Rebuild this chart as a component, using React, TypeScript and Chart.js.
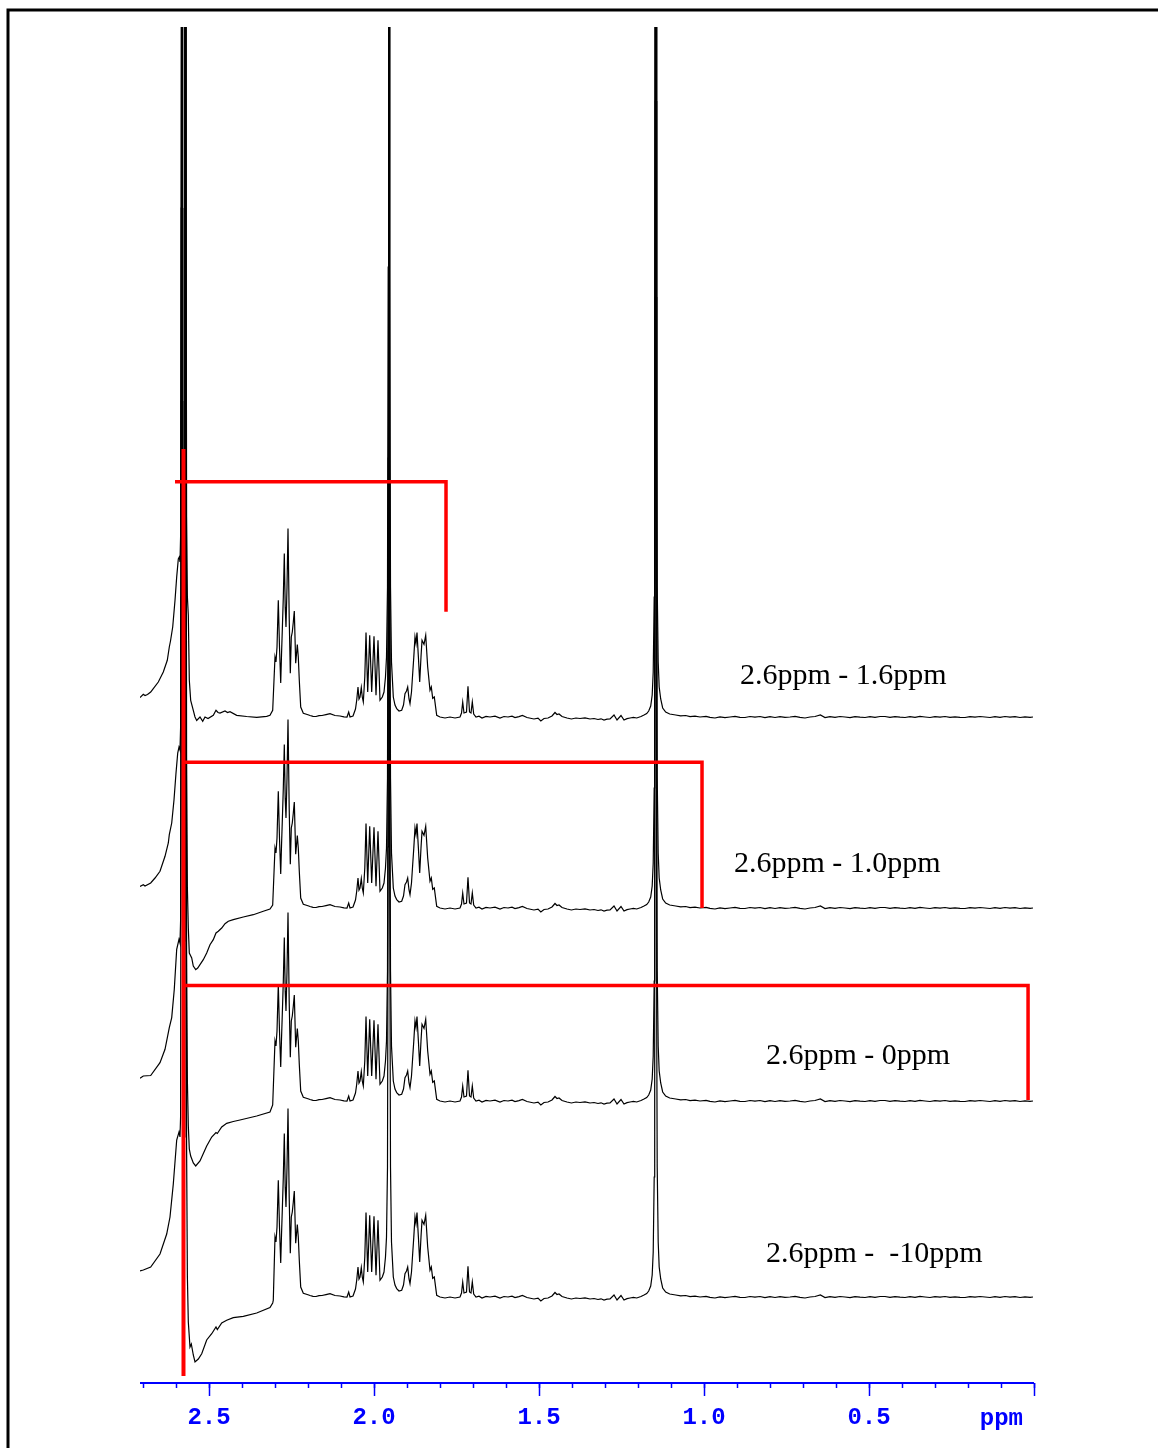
import React, { useEffect, useRef } from 'react';
import { Chart, registerables } from 'chart.js';

Chart.register(...registerables);

// ---- scale ranges (ppm axis reversed, intensity in arbitrary units) ----
const PPM_LEFT = 2.7091;
const PPM_RIGHT = 0;
const INTENSITY_MAX = 1356;

// vertical stacking offsets of the four spectra (top to bottom)
const TRACE_OFFSETS = [666, 475, 282, 86];

// [ppm, intensity] — left part of trace 1 (2.6–1.6 ppm window)
const LEFT_1: [number, number][] = [
  [2.7091, 19.5], [2.6991, 22.7], [2.6939, 21.5], [2.6864, 22.5], [2.6767, 25], [2.6688, 28.4],
  [2.6536, 35], [2.6385, 45], [2.6264, 56.7], [2.6203, 70], [2.6167, 76], [2.61, 90],
  [2.603, 116.7], [2.5979, 140], [2.593, 158], [2.59, 160], [2.5879, 155], [2.5861, 180],
  [2.5842, 700], [2.5827, 4000], [2.5812, 700], [2.5794, 160], [2.577, 60], [2.5748, 160],
  [2.573, 700], [2.5715, 4000], [2.57, 700], [2.5679, 200], [2.5655, 120], [2.5627, 101.7],
  [2.5597, 37], [2.5555, 16.7], [2.5476, 6.7], [2.5424, 0], [2.5373, -3.4], [2.5273, 0],
  [2.5191, -4.3], [2.5121, 0], [2.503, -1.5], [2.487, 1.7], [2.4788, 6.7], [2.4727, 4.5],
  [2.4667, 4], [2.4515, 6], [2.4439, 4.5], [2.4364, 5.4], [2.4161, 1.7], [2.3858, 0.5],
  [2.3555, -0.4], [2.3252, 0.7], [2.3152, 1.7], [2.307, 6.7],
];

// left part of trace 2 (2.6–1.0 ppm window)
const LEFT_2: [number, number][] = [
  [2.7091, 21.6], [2.6991, 23.3], [2.6939, 22], [2.6767, 25], [2.6636, 30], [2.6485, 36.7],
  [2.6333, 51.7], [2.6233, 65], [2.6203, 73.3], [2.613, 85], [2.6061, 108], [2.6, 135],
  [2.5948, 155], [2.5909, 161], [2.5879, 158], [2.5861, 180], [2.5842, 700], [2.5827, 4000],
  [2.5812, 700], [2.5794, 160], [2.577, 60], [2.5748, 160], [2.573, 700], [2.5715, 4000],
  [2.57, 700], [2.5679, 150], [2.5655, 20], [2.5627, -20], [2.5597, -45], [2.5524, -50],
  [2.5476, -58], [2.5403, -61.7], [2.5342, -60], [2.5273, -56.7], [2.5173, -51.7], [2.507, -45],
  [2.497, -36.7], [2.487, -31.7], [2.4788, -25], [2.4718, -23.3], [2.4615, -20], [2.4515, -15.7],
  [2.4415, -13.3], [2.4264, -11.7], [2.3961, -9], [2.3658, -6.7], [2.3355, -3.3], [2.3152, -1],
  [2.307, 3],
];

// left part of trace 3 (2.6–0 ppm window)
const LEFT_3: [number, number][] = [
  [2.7091, 22.7], [2.6991, 25], [2.6767, 25.5], [2.6485, 38.4], [2.6333, 51.7], [2.6203, 73.4],
  [2.613, 83.4], [2.6052, 111.7], [2.5979, 151.7], [2.5909, 161.7], [2.5879, 158], [2.5861, 180],
  [2.5842, 700], [2.5827, 4000], [2.5812, 700], [2.5794, 160], [2.577, 60], [2.5748, 160],
  [2.573, 700], [2.5715, 4000], [2.57, 700], [2.5679, 150], [2.5655, 20], [2.5627, -25],
  [2.5597, -48], [2.5555, -55], [2.5476, -62], [2.5403, -65], [2.5273, -60], [2.507, -45],
  [2.4918, -36], [2.4788, -31.6], [2.4748, -32.5], [2.4615, -26], [2.4464, -22.3], [2.4264, -20.5],
  [2.4061, -19], [2.3555, -15], [2.3152, -11], [2.307, -4],
];

// left part of trace 4 (2.6 – -10 ppm window)
const LEFT_4: [number, number][] = [
  [2.7091, 26], [2.6991, 27], [2.6767, 30], [2.6485, 43], [2.6282, 63], [2.6182, 80],
  [2.6082, 113], [2.5979, 157], [2.5909, 165], [2.5879, 160], [2.5861, 180], [2.5842, 700],
  [2.5827, 4000], [2.5812, 700], [2.5794, 160], [2.577, 60], [2.5748, 160], [2.573, 700],
  [2.5715, 4000], [2.57, 700], [2.5679, 150], [2.5655, 20], [2.5627, -25], [2.5576, -50],
  [2.5536, -47], [2.5476, -58], [2.5424, -65], [2.5324, -62], [2.5221, -56.7], [2.507, -43],
  [2.4918, -36.7], [2.4788, -30], [2.4748, -32.5], [2.4615, -26], [2.4464, -23.3], [2.4264, -20.6],
  [2.3961, -19.3], [2.3555, -16], [2.3152, -10.6], [2.307, -6], [2.3052, -3.3],
];

// right part common to all four spectra (2.30 ppm → 0 ppm)
const SHARED: [number, number][] = [
  [2.3, 60], [2.297, 55], [2.2939, 70], [2.29, 116.7], [2.2864, 70], [2.2827, 34],
  [2.2803, 62], [2.2779, 86.7], [2.2748, 120], [2.2718, 163.4], [2.2691, 110], [2.2667, 90],
  [2.2636, 130], [2.2606, 188.4], [2.257, 100], [2.2536, 43.7], [2.2506, 80], [2.2476, 85],
  [2.2445, 95], [2.2415, 106], [2.2373, 53.7], [2.2324, 72.4], [2.2294, 60], [2.2264, 36.7],
  [2.2221, 10], [2.2142, 3.7], [2.2, 2.2], [2.1939, 1.5], [2.1848, 0.6], [2.1758, 0.5],
  [2.1667, 1.4], [2.1576, 1.5], [2.1455, 2.4], [2.1333, 3.4], [2.1182, 1.5], [2.103, 1],
  [2.0909, 0.2], [2.0818, 0], [2.0767, 5], [2.0727, 0], [2.0636, 1], [2.0561, 8],
  [2.0524, 16.7], [2.0485, 30], [2.0455, 18], [2.0424, 20], [2.0385, 29.4], [2.0355, 20],
  [2.0324, 15], [2.0279, 40], [2.0242, 84.4], [2.0191, 25], [2.013, 81.7], [2.007, 25],
  [2.0, 80.7], [1.9939, 21.7], [1.9879, 76.7], [1.9818, 16.7], [1.9748, 20], [1.9697, 25],
  [1.9652, 40], [1.9621, 60], [1.9591, 130], [1.957, 450], [1.9556, 1400], [1.9545, 4000],
  [1.9534, 1400], [1.9521, 450], [1.95, 130], [1.947, 55], [1.9415, 20], [1.9364, 12],
  [1.9312, 8.4], [1.9242, 6], [1.9161, 6.7], [1.9106, 12], [1.9061, 23.4], [1.9015, 26],
  [1.8979, 30], [1.8939, 18], [1.8909, 13.4], [1.8864, 25], [1.8827, 43.7], [1.8794, 60],
  [1.8758, 80], [1.8727, 73.4], [1.8697, 84.4], [1.8655, 60], [1.8615, 35], [1.8576, 60],
  [1.8545, 76.7], [1.8485, 72.7], [1.8433, 81.7], [1.8373, 50], [1.8303, 26.7], [1.8264, 30],
  [1.8221, 18.7], [1.8173, 20], [1.81, 1.7], [1.8, 0], [1.7848, -1], [1.7697, 0],
  [1.7545, -1], [1.7394, 0], [1.7348, 4], [1.7312, 15], [1.7273, 4], [1.7197, 5],
  [1.7152, 30.7], [1.7106, 5], [1.7061, 4], [1.7021, 15], [1.6979, 3], [1.6909, 0],
  [1.6818, 0.8], [1.6727, -1], [1.6606, 0.6], [1.6485, 0], [1.6333, 0.8], [1.6182, -1],
  [1.6061, 0.5], [1.5939, 0], [1.5818, 0.9], [1.5727, -0.5], [1.5606, 0.4], [1.5503, 1.5],
  [1.5364, -0.5], [1.5152, -2], [1.503, -1.2], [1.4945, -4], [1.4848, -1.5], [1.4727, -1],
  [1.4606, 1], [1.4515, 4.5], [1.4455, 2.5], [1.4394, 3], [1.4303, 0.5], [1.4152, -1],
  [1.4018, -2], [1.3879, -1], [1.3758, -1.5], [1.3606, -0.8], [1.3455, -2], [1.3333, -1.5],
  [1.3212, -2.5], [1.3121, -1.8], [1.303, -3], [1.2939, -2.2], [1.2848, -2], [1.2727, 2],
  [1.2636, -3], [1.2515, 1.5], [1.2424, -3], [1.2333, -1.6], [1.2242, -1], [1.2139, -0.4],
  [1.2039, -1], [1.1909, 0.5], [1.1818, 2], [1.1736, 3.5], [1.1676, 6], [1.1615, 11],
  [1.157, 22], [1.1539, 45], [1.1509, 120], [1.1494, 280], [1.1479, 1000], [1.1464, 4000],
  [1.1448, 1000], [1.1433, 280], [1.1418, 130], [1.1388, 55], [1.1358, 30], [1.1312, 18],
  [1.1252, 9], [1.1161, 5], [1.1039, 3], [1.0858, 2], [1.0707, 1.2], [1.0555, 1.5],
  [1.0424, 0.4], [1.0273, 0.8], [1.0121, 0], [0.9939, 0.6], [0.9818, -0.3], [0.9667, -1],
  [0.9515, 0.2], [0.9364, -0.6], [0.9212, 0], [0.9061, 0.7], [0.8909, -0.4], [0.8758, -0.5],
  [0.8606, 0.5], [0.8455, -0.2], [0.8303, 0.5], [0.8152, -0.6], [0.8, 0.3], [0.7848, -0.5],
  [0.7697, 0.4], [0.7545, -0.3], [0.7394, 0], [0.7242, 0.6], [0.7091, -0.4], [0.6939, -1],
  [0.6788, 0], [0.6636, 0.5], [0.6473, 2], [0.6333, -0.5], [0.6182, 0.4], [0.6030, -0.4],
  [0.5879, 0.5], [0.5727, 0], [0.5576, -0.6], [0.5424, 0.4], [0.5273, -0.2], [0.5121, -0.5],
  [0.497, 0.4], [0.4818, -0.3], [0.4667, 0.5], [0.4515, 0.5], [0.4364, -0.4], [0.4212, 0.3],
  [0.4061, -0.2], [0.3909, -0.5], [0.3758, 0.4], [0.3606, -0.3], [0.3455, 0.6], [0.3303, 0],
  [0.3152, -0.5], [0.3, 0.3], [0.2848, -0.2], [0.2697, 0.5], [0.2545, -0.4], [0.2394, 0.2],
  [0.2242, -0.3], [0.2091, -0.5], [0.1939, 0.4], [0.1788, -0.2], [0.1636, 0.5], [0.1485, 0],
  [0.1333, -0.5], [0.1182, 0.3], [0.103, -0.3], [0.0879, 0.5], [0.0727, -0.2], [0.0576, 0.3],
  [0.0424, -0.5], [0.0273, 0.2], [0.0121, -0.3], [0.003, 0],
];

const TRACE_LEFT_PARTS = [LEFT_1, LEFT_2, LEFT_3, LEFT_4];

// red integration-window markers [ppm, intensity]
const RED_VERTICAL: [number, number][] = [[2.5773, 934], [2.5773, 7]];
const RED_WINDOW_1: [number, number][] = [[2.603, 901.3], [1.7818, 901.3], [1.7818, 771.3]];
const RED_WINDOW_2: [number, number][] = [[2.5773, 620.7], [1.006, 620.7], [1.006, 475]];
const RED_WINDOW_3: [number, number][] = [[2.5773, 397.5], [0.018, 397.5], [0.018, 283]];

// axis ticks
const MINOR_TICKS = [2.7, 2.6, 2.5, 2.4, 2.3, 2.2, 2.1, 2.0, 1.9, 1.8, 1.7, 1.6, 1.5, 1.4,
  1.3, 1.2, 1.1, 1.0, 0.9, 0.8, 0.7, 0.6, 0.5, 0.4, 0.3, 0.2, 0.1, 0.0];
const MAJOR_TICKS = [2.5, 2.0, 1.5, 1.0, 0.5, 0.0];
const TICK_LABELS = ['2.5', '2.0', '1.5', '1.0', '0.5'];
const AXIS_UNIT = 'ppm';

// window captions
const WINDOW_LABELS = ['2.6ppm - 1.6ppm', '2.6ppm - 1.0ppm', '2.6ppm - 0ppm', '2.6ppm -  -10ppm'];
// caption anchors (left edge ppm, baseline intensity) — layout only
const WINDOW_LABEL_ANCHORS: [number, number][] = [[0.8909, 699], [0.9091, 511], [0.8121, 319], [0.8121, 121]];

const toXY = (pts: [number, number][], off = 0) => pts.map(([x, y]) => ({ x, y: y + off }));

const decorPlugin = {
  id: 'decor',
  beforeDraw(chart: any) {
    const ctx = chart.ctx as CanvasRenderingContext2D;
    ctx.save();
    ctx.fillStyle = '#ffffff';
    ctx.fillRect(0, 0, chart.width, chart.height);
    // page frame
    ctx.strokeStyle = '#000000';
    ctx.lineWidth = 3;
    ctx.beginPath();
    ctx.moveTo(8, chart.height);
    ctx.lineTo(8, 10);
    ctx.lineTo(chart.width, 10);
    ctx.stroke();
    ctx.restore();
  },
  afterDraw(chart: any) {
    const ctx = chart.ctx as CanvasRenderingContext2D;
    const xs = chart.scales.x;
    const ys = chart.scales.y;
    const yAxis = chart.chartArea.bottom;
    ctx.save();
    ctx.strokeStyle = '#0000ff';
    ctx.fillStyle = '#0000ff';
    // axis line
    ctx.lineWidth = 2;
    ctx.beginPath();
    ctx.moveTo(xs.getPixelForValue(PPM_LEFT), yAxis);
    ctx.lineTo(xs.getPixelForValue(PPM_RIGHT), yAxis);
    ctx.stroke();
    // ticks
    ctx.lineWidth = 1.5;
    MINOR_TICKS.forEach((t) => {
      const px = Math.round(xs.getPixelForValue(t)) + 0.5;
      ctx.beginPath();
      ctx.moveTo(px, yAxis);
      ctx.lineTo(px, yAxis + 5);
      ctx.stroke();
    });
    MAJOR_TICKS.forEach((t) => {
      const px = Math.round(xs.getPixelForValue(t)) + 0.5;
      ctx.beginPath();
      ctx.moveTo(px, yAxis);
      ctx.lineTo(px, yAxis + 13);
      ctx.stroke();
    });
    // tick labels
    ctx.font = 'bold 24px "Liberation Mono", "DejaVu Sans Mono", monospace';
    ctx.textAlign = 'center';
    ctx.textBaseline = 'alphabetic';
    TICK_LABELS.forEach((lab, i) => {
      ctx.fillText(lab, xs.getPixelForValue(MAJOR_TICKS[i]), yAxis + 41);
    });
    ctx.textAlign = 'right';
    ctx.fillText(AXIS_UNIT, xs.getPixelForValue(PPM_RIGHT) - 11, yAxis + 42);
    // window captions
    ctx.fillStyle = '#000000';
    ctx.font = '30px "Liberation Serif", "Times New Roman", serif';
    ctx.textAlign = 'left';
    WINDOW_LABELS.forEach((lab, i) => {
      const [p, v] = WINDOW_LABEL_ANCHORS[i];
      ctx.fillText(lab, xs.getPixelForValue(p), ys.getPixelForValue(v));
    });
    ctx.restore();
  },
};

export default function App() {
  const ref = useRef<HTMLCanvasElement>(null);
  useEffect(() => {
    if (!ref.current) return;
    const black = TRACE_LEFT_PARTS.map((left, i) => ({
      label: `spectrum ${i + 1}`,
      data: toXY([...left, ...SHARED], TRACE_OFFSETS[i]),
      borderColor: '#000000',
      borderWidth: 1.2,
      pointRadius: 0,
      tension: 0,
      fill: false,
      order: 2,
    }));
    const red = [RED_VERTICAL, RED_WINDOW_1, RED_WINDOW_2, RED_WINDOW_3].map((seg, i) => ({
      label: `window ${i}`,
      data: toXY(seg),
      borderColor: '#ff0000',
      borderWidth: i === 0 ? 4 : 3.5,
      pointRadius: 0,
      tension: 0,
      fill: false,
      order: 1,
      borderJoinStyle: 'miter' as const,
    }));
    const chart = new Chart(ref.current, {
      type: 'line',
      data: { datasets: [...red, ...black] as any },
      options: {
        animation: false,
        responsive: false,
        devicePixelRatio: 1,
        events: [],
        layout: { padding: { left: 140, right: 124, top: 27, bottom: 65 } },
        scales: {
          x: { type: 'linear', reverse: true, min: PPM_RIGHT, max: PPM_LEFT, display: false },
          y: { type: 'linear', min: 0, max: INTENSITY_MAX, display: false },
        },
        plugins: { legend: { display: false }, tooltip: { enabled: false } },
      },
      plugins: [decorPlugin],
    });
    return () => chart.destroy();
  }, []);
  return (
    <div style={{ position: 'fixed', left: 0, top: 0, width: 1158, height: 1448, background: '#fff' }}>
      <canvas ref={ref} width={1158} height={1448} style={{ display: 'block' }} />
    </div>
  );
}
